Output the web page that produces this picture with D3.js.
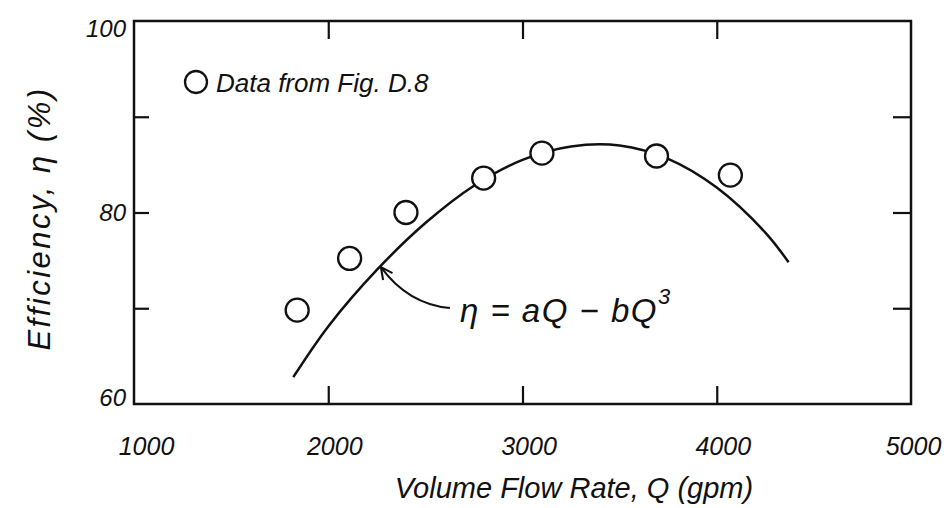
<!DOCTYPE html>
<html>
<head>
<meta charset="utf-8">
<script src="https://cdn.jsdelivr.net/npm/d3@7/dist/d3.min.js"></script>
<style>
  html, body { margin: 0; padding: 0; background: #fff; }
  svg { display: block; }
  text { font-family: "Liberation Sans", "DejaVu Sans", sans-serif; font-style: italic; fill: #111; }
</style>
</head>
<body>
<svg id="chart" width="944" height="508"></svg>
<script>
// Measured pump efficiency versus volume flow rate
const flowRate   = [1840, 2110, 2400, 2800, 3100, 3690, 4070];
const efficiency = [69.8, 75.2, 80.0, 83.6, 86.2, 85.9, 83.9];

// Fitted curve  eta = aQ - bQ^3, sampled along its drawn length
const curveFlow = [1820, 2000, 2250, 2500, 2750, 3000, 3250, 3500, 3750, 4000, 4250, 4370];
const curveEff  = [62.8, 68.1, 74.0, 78.9, 82.8, 85.5, 86.9, 87.0, 85.6, 82.6, 77.9, 74.8];

// Axis ticks and labels
const flowTicks   = [1000, 2000, 3000, 4000, 5000];
const flowMarks   = [2000, 3000, 4000];
const effMarks    = [70, 80, 90];
const effLabels   = [60, 80, 100];

// Annotation anchor on the fitted curve
const arrowFlow = 2266, arrowEff = 74.4;

const svg = d3.select("#chart");
const ink = "#111";

const x = d3.scaleLinear().domain([1000, 5000]).range([134, 911]);
const y = d3.scaleLinear().domain([60, 100]).range([404, 21]);

// Frame
svg.append("rect")
  .attr("x", x(1000)).attr("y", y(100))
  .attr("width", x(5000) - x(1000)).attr("height", y(60) - y(100))
  .attr("fill", "none").attr("stroke", ink).attr("stroke-width", 2.5);

// Inward tick marks on all four sides
const tickLen = 18;
const markStyle = g => g.call(s => s.select(".domain").remove())
  .call(s => s.selectAll(".tick line").attr("stroke", ink).attr("stroke-width", 2.2))
  .call(s => s.selectAll(".tick text").remove());

svg.append("g").attr("transform", `translate(0,${y(60)})`)
  .call(d3.axisBottom(x).tickValues(flowMarks).tickSize(-tickLen)).call(markStyle);
svg.append("g").attr("transform", `translate(0,${y(100)})`)
  .call(d3.axisTop(x).tickValues(flowMarks).tickSize(-tickLen)).call(markStyle);
svg.append("g").attr("transform", `translate(${x(1000)},0)`)
  .call(d3.axisLeft(y).tickValues(effMarks).tickSize(-tickLen + 3)).call(markStyle);
svg.append("g").attr("transform", `translate(${x(5000)},0)`)
  .call(d3.axisRight(y).tickValues(effMarks).tickSize(-tickLen)).call(markStyle);

// Tick labels
const bottomLabels = svg.append("g").attr("transform", `translate(6,${y(60) + 30})`)
  .call(d3.axisBottom(x).tickValues(flowTicks).tickSize(0).tickFormat(d3.format("d")));
bottomLabels.select(".domain").remove();
bottomLabels.selectAll(".tick text")
  .attr("font-size", 25).attr("font-family", "Liberation Sans, sans-serif")
  .attr("font-style", "italic").attr("fill", ink)
  .attr("dx", d => d === 5000 ? -4 : d === 1000 ? 6 : 0);

const leftLabels = svg.append("g").attr("transform", `translate(${x(1000) - 5},0)`)
  .call(d3.axisLeft(y).tickValues(effLabels).tickSize(0).tickFormat(d3.format("d")));
leftLabels.select(".domain").remove();
leftLabels.selectAll(".tick text")
  .attr("font-size", 24).attr("font-family", "Liberation Sans, sans-serif")
  .attr("font-style", "italic").attr("fill", ink)
  .attr("dy", d => d === 100 ? "0.65em" : d === 60 ? "0.05em" : "0.35em");

// Fitted curve
const curvePts = curveFlow.map((q, i) => [q, curveEff[i]]);
svg.append("path")
  .datum(curvePts)
  .attr("fill", "none").attr("stroke", ink).attr("stroke-width", 2.5)
  .attr("d", d3.line().x(d => x(d[0])).y(d => y(d[1])).curve(d3.curveCatmullRom));

// Data circles
const points = flowRate.map((q, i) => ({ q, e: efficiency[i] }));
svg.append("g").selectAll("circle").data(points).join("circle")
  .attr("cx", d => x(d.q)).attr("cy", d => y(d.e)).attr("r", 11.5)
  .attr("fill", "#fff").attr("stroke", ink).attr("stroke-width", 2.3);

// Legend
svg.append("circle").attr("cx", 196).attr("cy", 82).attr("r", 11)
  .attr("fill", "#fff").attr("stroke", ink).attr("stroke-width", 2.3);
svg.append("text").attr("x", 216).attr("y", 92)
  .attr("font-size", 26).text("Data from Fig. D.8");

// Equation annotation with arrow pointing at the curve
const tipX = x(arrowFlow), tipY = y(arrowEff);
svg.append("defs").append("marker")
  .attr("id", "openArrow").attr("viewBox", "0 0 12 12")
  .attr("refX", 11).attr("refY", 6).attr("markerWidth", 14).attr("markerHeight", 14)
  .attr("markerUnits", "userSpaceOnUse").attr("orient", "auto")
  .append("path").attr("d", "M1,1 L11,6 L1,11")
  .attr("fill", "none").attr("stroke", ink).attr("stroke-width", 1.8);

svg.append("path")
  .attr("d", `M${tipX + 70},${tipY + 42} Q${tipX + 28},${tipY + 38} ${tipX + 1},${tipY + 1}`)
  .attr("fill", "none").attr("stroke", ink).attr("stroke-width", 2)
  .attr("marker-end", "url(#openArrow)");

const eq = svg.append("text").attr("x", tipX + 80).attr("y", tipY + 56)
  .attr("font-size", 33).attr("letter-spacing", 1.5);
eq.append("tspan").text("η = aQ − bQ");
eq.append("tspan").attr("dy", -18).attr("font-size", 22).text("3");

// Axis titles
svg.append("text")
  .attr("transform", `translate(50,${(y(60) + y(100)) / 2 + 6}) rotate(-90)`)
  .attr("text-anchor", "middle").attr("font-size", 31).attr("letter-spacing", 2.5)
  .text("Efficiency, η (%)");

svg.append("text")
  .attr("x", 574).attr("y", 498)
  .attr("text-anchor", "middle").attr("font-size", 29)
  .text("Volume Flow Rate, Q (gpm)");
</script>
</body>
</html>
